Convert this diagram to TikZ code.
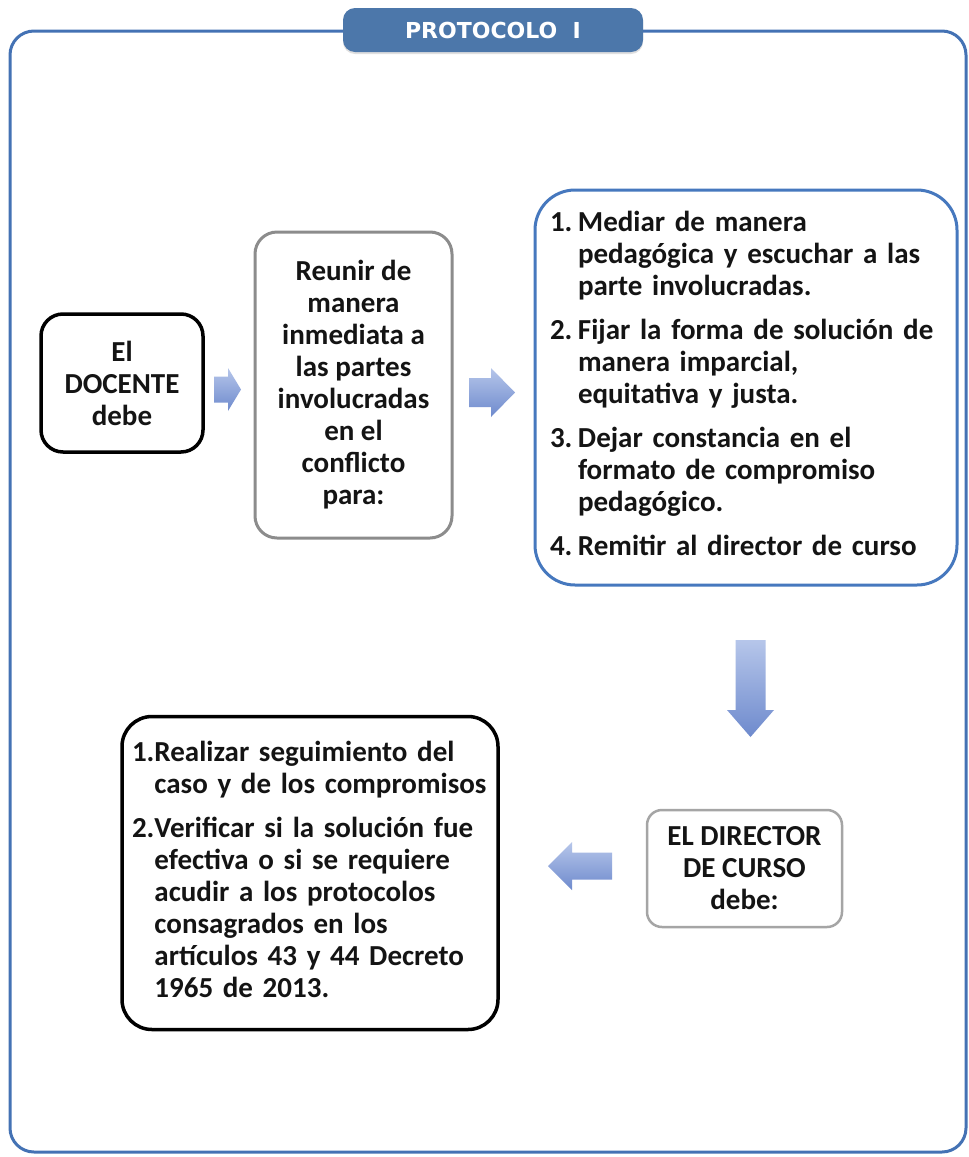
\documentclass[tikz,border=0pt]{standalone}
\usepackage{fontspec}
\setmainfont{Carlito}
\newfontfamily\titlefont{DejaVu Sans}
\usetikzlibrary{calc,shadows}

\definecolor{frameblue}{RGB}{68,114,180}
\definecolor{tabblue}{RGB}{76,119,170}
\definecolor{boxblue}{RGB}{70,120,190}
\definecolor{boxgray}{RGB}{140,140,140}
\definecolor{softgray}{RGB}{165,165,165}
\definecolor{arrowlight}{RGB}{182,198,234}
\definecolor{arrowdark}{RGB}{110,138,205}
\definecolor{textblack}{RGB}{20,20,20}

\tikzset{
  paso/.style={draw, rounded corners=22pt, line width=3pt, text=textblack,
    font=\bfseries\fontsize{29}{32}\selectfont, align=center, inner sep=0pt},
  titletab/.style={fill=tabblue, rounded corners=12pt, text=white,
    minimum width=300pt, minimum height=44pt,
    drop shadow={shadow xshift=0pt, shadow yshift=-2pt, opacity=0.25},
    font=\titlefont\bfseries\fontsize{22}{24}\selectfont},
  arrowshade/.style={top color=arrowlight, bottom color=arrowdark}
}

\begin{document}
\begin{tikzpicture}[x=1pt,y=-1pt]
\useasboundingbox (0,0) rectangle (969,1157);
\fill[white] (0,0) rectangle (969,1157);

% marco
\draw[frameblue, line width=3pt, rounded corners=24pt] (10,31) rectangle (966,1152);
\node[titletab] (titulo) at (493,30) {PROTOCOLO\ \ I};

% cajas
\node[paso, line width=3.5pt, minimum width=162pt, minimum height=138pt] (docente) at (122,383)
  {El\\DOCENTE\\debe};
\node[paso, draw=boxgray, minimum width=197pt, minimum height=306pt] (reunir) at (353.5,385)
  {Reunir de\\manera\\inmediata a\\las partes\\involucradas\\en el\\conflicto\\para:};
\node[paso, draw=boxblue, rounded corners=40pt, minimum height=395pt,
  text width=392pt, inner xsep=15pt, align=left] (pasos) at (746,387.5) {%
  \begin{tabular}{@{}p{28pt}@{}l@{}}
  1. & Mediar de manera\\
     & pedagógica y escuchar a las\\
     & parte involucradas.\\[12pt]
  2. & Fijar la forma de solución de\\
     & manera imparcial,\\
     & equitativa y justa.\\[12pt]
  3. & Dejar constancia en el\\
     & formato de compromiso\\
     & pedagógico.\\[12pt]
  4. & Remitir al director de curso
  \end{tabular}};
\node[paso, draw=softgray, line width=2.5pt, rounded corners=15pt,
  minimum width=195pt, minimum height=117pt] (director) at (744.5,868.5)
  {EL DIRECTOR\\DE CURSO\\debe:};
\node[paso, line width=3.5pt, rounded corners=30pt, minimum height=313pt,
  text width=356pt, inner xsep=10pt, align=left] (seguimiento) at (310,873) {%
  \begin{tabular}{@{}l@{}l@{}}
  1. & Realizar seguimiento del\\
     & caso y de los compromisos\\[12pt]
  2. & Verificar si la solución fue\\
     & efectiva o si se requiere\\
     & acudir a los protocolos\\
     & consagrados en los\\
     & artículos 43 y 44 Decreto\\
     & 1965 de 2013.
  \end{tabular}};

% flechas
\coordinate (f1) at (227.5,389.5);
\coordinate (f2) at (492,392.5);
\coordinate (f3) at (750.5,688.5);
\coordinate (f4) at (580,866);
\shade[arrowshade, shift={(f1)}] (-13.5,-13) -- (0.5,-13) -- (0.5,-21.5) -- (13.5,0)
  -- (0.5,21.5) -- (0.5,13) -- (-13.5,13) -- cycle;
\shade[arrowshade, shift={(f2)}] (-23,-14.5) -- (-1,-14.5) -- (-1,-24.5) -- (23,0)
  -- (-1,24.5) -- (-1,14.5) -- (-23,14.5) -- cycle;
\shade[arrowshade, shift={(f3)}, rotate=-90] (-48.5,-15) -- (21.5,-15) -- (21.5,-23.5) -- (48.5,0)
  -- (21.5,23.5) -- (21.5,15) -- (-48.5,15) -- cycle;
\shade[arrowshade, shift={(f4)}, rotate=180] (-32,-13.5) -- (8,-13.5) -- (8,-24) -- (32,0)
  -- (8,24) -- (8,13.5) -- (-32,13.5) -- cycle;
\end{tikzpicture}
\end{document}
